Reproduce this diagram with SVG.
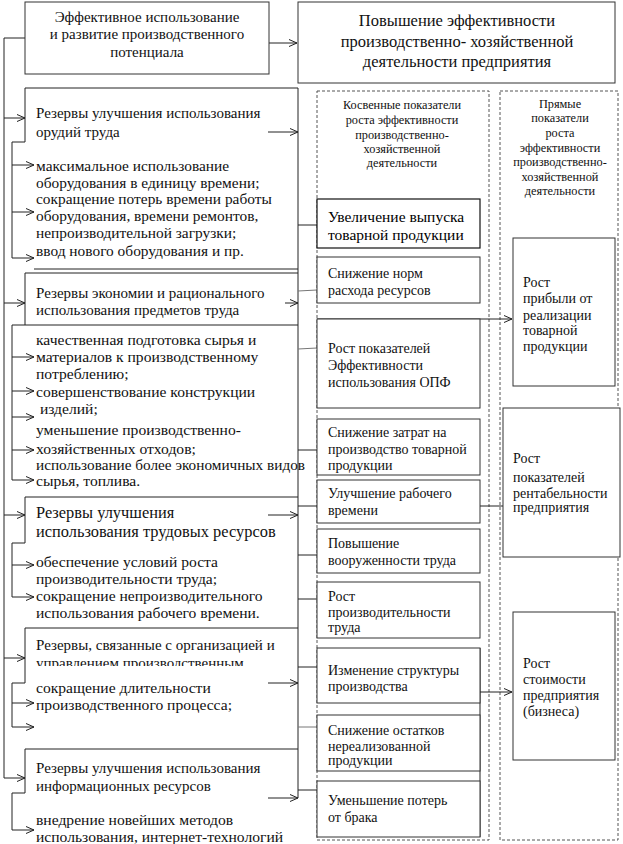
<svg xmlns="http://www.w3.org/2000/svg" width="623" height="844" viewBox="0 0 623 844">
<style>
text{font-family:"Liberation Serif","Times New Roman",serif;fill:#111}
.t15{font-size:15px}
.t154{font-size:15.4px}
.t156{font-size:15.6px}
.t16{font-size:16px}
.t164{font-size:16.4px}
.t165{font-size:16.5px}
.t14{font-size:14px}
.t12{font-size:12.3px}
.c{text-anchor:middle}
.box{fill:#fff;stroke:#333;stroke-width:1}
.dash{fill:none;stroke:#555;stroke-width:1;stroke-dasharray:3,2}
.ln{fill:none;stroke:#222;stroke-width:1}
.gr{fill:none;stroke:#777;stroke-width:1}
.ar{fill:none;stroke:#222;stroke-width:1;marker-end:url(#arr)}
</style>
<defs>
<marker id="arr" viewBox="0 0 8 8" refX="8" refY="4" markerWidth="8" markerHeight="8" markerUnits="userSpaceOnUse" orient="auto">
<path d="M0,0.5 L8,4 L0,7.5" fill="none" stroke="#222" stroke-width="1"/>
</marker>
<clipPath id="clip4"><rect x="0" y="0" width="623" height="666"/></clipPath>
</defs>
<rect width="623" height="844" fill="#fff"/>

<g id="col-indirect"><rect class="dash" x="317" y="91" width="172" height="749"/>
<text class="t12 c"><tspan x="402" y="109">Косвенные показатели</tspan><tspan x="402" y="124">роста эффективности</tspan><tspan x="402" y="139">производственно-</tspan><tspan x="402" y="153">хозяйственной</tspan><tspan x="402" y="167">деятельности</tspan></text></g>
<g id="col-direct"><rect class="dash" x="500" y="91" width="118" height="749"/>
<text class="t12 c"><tspan x="560" y="108">Прямые</tspan><tspan x="560" y="122">показатели</tspan><tspan x="560" y="137">роста</tspan><tspan x="560" y="152">эффективности</tspan><tspan x="560" y="166">производственно-</tspan><tspan x="560" y="181">хозяйственной</tspan><tspan x="560" y="195">деятельности</tspan></text></g>

<g id="connectors">
<polyline class="ln" points="25,38 4,38 4,778"/>
<line class="ar" x1="4" y1="118" x2="25" y2="118"/>
<line class="ar" x1="4" y1="303" x2="25" y2="303"/>
<line class="ar" x1="4" y1="515" x2="25" y2="515"/>
<line class="ar" x1="4" y1="658" x2="25" y2="658"/>
<line class="ar" x1="4" y1="778" x2="25" y2="778"/>
<line class="ar" x1="269" y1="43" x2="297" y2="43"/>
<polyline class="ln" points="12,142 25,142 25,88 298,88 298,798"/>
<polyline class="ln" points="12,142 12,258"/>
<line class="ln" x1="34" y1="269" x2="298" y2="269"/>
<polyline class="ln" points="298,325 12,325 12,480"/>
<polyline class="ln" points="25,325 25,273 298,273"/>
<polyline class="ln" points="12,543 25,543 25,497 298,497"/>
<polyline class="ln" points="12,543 12,597"/>
<polyline class="ln" points="12,683 25,683 25,628 298,628"/>
<polyline class="ln" points="12,683 12,727"/>
<polyline class="ln" points="12,793 25,793 25,749 298,749"/>
<polyline class="ln" points="12,793 12,830"/>
<line class="ar" x1="12" y1="165" x2="34" y2="165"/>
<line class="ar" x1="12" y1="212" x2="34" y2="212"/>
<line class="ar" x1="12" y1="258" x2="34" y2="258"/>
<line class="ar" x1="12" y1="357" x2="34" y2="357"/>
<line class="ar" x1="12" y1="391" x2="34" y2="391"/>
<line class="ar" x1="12" y1="417" x2="34" y2="417"/>
<line class="ar" x1="12" y1="450" x2="34" y2="450"/>
<line class="ar" x1="12" y1="480" x2="34" y2="480"/>
<line class="ar" x1="12" y1="565" x2="34" y2="565"/>
<line class="ar" x1="12" y1="597" x2="34" y2="597"/>
<line class="ar" x1="12" y1="703" x2="34" y2="703"/>
<line class="ar" x1="12" y1="727" x2="34" y2="727"/>
<line class="ar" x1="12" y1="830" x2="34" y2="830"/>
<line class="ar" x1="268" y1="132" x2="298" y2="132"/>
<line class="ar" x1="285" y1="303" x2="298" y2="303"/>
<line class="ar" x1="268" y1="515" x2="298" y2="515"/>
<line class="ar" x1="268" y1="683" x2="298" y2="683"/>
<line class="ar" x1="268" y1="798" x2="298" y2="798"/>
<line class="ln" x1="298" y1="225" x2="317" y2="225"/>
<line class="gr" x1="298" y1="291" x2="317" y2="290"/>
<line class="gr" x1="298" y1="349" x2="317" y2="348"/>
<line class="ln" x1="298" y1="450" x2="317" y2="450"/>
<line class="ln" x1="298" y1="506" x2="317" y2="506"/>
<line class="ln" x1="298" y1="555" x2="317" y2="555"/>
<line class="ln" x1="298" y1="599" x2="317" y2="599"/>
<line class="ln" x1="298" y1="667" x2="317" y2="667"/>
<line class="gr" x1="298" y1="727" x2="317" y2="727"/>
<line class="ln" x1="298" y1="790" x2="317" y2="790"/>
<line class="ar" x1="317" y1="319" x2="512" y2="319"/>
<line class="ar" x1="480" y1="506" x2="513" y2="506"/>
<line class="ar" x1="480" y1="692" x2="512" y2="692"/>
<line class="ln" x1="480" y1="648" x2="480" y2="837"/>
</g>

<g id="n-top1"><rect class="box" x="25" y="2" width="244" height="72"/>
<text class="t15 c"><tspan x="147" y="22">Эффективное использование</tspan><tspan x="147" y="39">и развитие производственного</tspan><tspan x="147" y="57">потенциала</tspan></text></g>
<g id="n-top2"><rect class="box" x="298" y="2" width="317" height="81"/>
<text class="t165 c"><tspan x="457" y="26">Повышение эффективности</tspan><tspan x="457" y="47">производственно- хозяйственной</tspan><tspan x="457" y="67">деятельности предприятия</tspan></text></g>

<g id="n-res1"><text class="t15"><tspan x="36" y="118">Резервы улучшения использования</tspan><tspan x="36" y="137">орудий труда</tspan></text>
<text class="t154"><tspan x="36" y="171">максимальное использование</tspan><tspan x="36" y="188">оборудования в единицу времени;</tspan><tspan x="36" y="204">сокращение потерь времени работы</tspan><tspan x="36" y="221">оборудования, времени ремонтов,</tspan><tspan x="36" y="238">непроизводительной загрузки;</tspan><tspan x="36" y="256">ввод нового оборудования и пр.</tspan></text></g>

<g id="n-res2"><text class="t15"><tspan x="36" y="298">Резервы экономии и рационального</tspan><tspan x="36" y="315">использования предметов труда</tspan></text>
<text class="t156"><tspan x="36" y="345">качественная подготовка сырья и</tspan><tspan x="36" y="362">материалов к производственному</tspan><tspan x="36" y="379">потреблению;</tspan><tspan x="36" y="397">совершенствование конструкции</tspan><tspan x="36" y="414"> изделий;</tspan><tspan x="36" y="435">уменьшение производственно-</tspan><tspan x="36" y="454">хозяйственных отходов;</tspan></text>
<text class="t156" x="36" y="470" textLength="269" lengthAdjust="spacingAndGlyphs">использование более экономичных видов</text>
<text class="t156" x="36" y="486">сырья, топлива.</text></g>

<g id="n-res3"><text class="t164"><tspan x="36" y="518">Резервы улучшения</tspan><tspan x="36" y="537">использования трудовых ресурсов</tspan></text>
<text class="t156"><tspan x="36" y="567">обеспечение условий роста</tspan><tspan x="36" y="584">производительности труда;</tspan><tspan x="36" y="601">сокращение непроизводительного</tspan><tspan x="36" y="618">использования рабочего времени.</tspan></text></g>

<g id="n-res4"><text class="t15" clip-path="url(#clip4)"><tspan x="36" y="650">Резервы, связанные с организацией и</tspan><tspan x="36" y="668">управлением производственным</tspan></text>
<text class="t156"><tspan x="36" y="693">сокращение длительности</tspan><tspan x="36" y="710">производственного процесса;</tspan></text></g>

<g id="n-res5"><text class="t15"><tspan x="36" y="773">Резервы улучшения использования</tspan><tspan x="36" y="791">информационных ресурсов</tspan></text>
<text class="t156"><tspan x="36" y="825">внедрение новейших методов</tspan><tspan x="36" y="842">использования, интернет-технологий</tspan></text></g>

<g id="n-i1"><rect class="box" x="317" y="199" width="163" height="49" style="stroke:#111;stroke-width:1.2"/><text style="font-size:15.5px;fill:#000"><tspan x="328" y="222">Увеличение выпуска</tspan><tspan x="328" y="240">товарной продукции</tspan></text></g>
<g id="n-i2"><rect class="box" x="317" y="257" width="163" height="46"/><text class="t14"><tspan x="328" y="278">Снижение норм</tspan><tspan x="328" y="295">расхода ресурсов</tspan></text></g>
<g id="n-i3"><rect class="box" x="317" y="319" width="163" height="89"/><text class="t14"><tspan x="328" y="353">Рост показателей</tspan><tspan x="328" y="370">Эффективности</tspan><tspan x="328" y="387">использования ОПФ</tspan></text></g>
<g id="n-i4"><rect class="box" x="317" y="419" width="163" height="56"/><text class="t14"><tspan x="328" y="437">Снижение затрат на</tspan><tspan x="328" y="454">производство товарной</tspan><tspan x="328" y="470">продукции</tspan></text></g>
<g id="n-i5"><rect class="box" x="317" y="480" width="163" height="43"/><text class="t14"><tspan x="328" y="498">Улучшение рабочего</tspan><tspan x="328" y="515">времени</tspan></text></g>
<g id="n-i6"><rect class="box" x="317" y="529" width="163" height="44"/><text class="t14"><tspan x="328" y="548">Повышение</tspan><tspan x="328" y="565">вооруженности труда</tspan></text></g>
<g id="n-i7"><rect class="box" x="317" y="582" width="163" height="56"/><text class="t14"><tspan x="328" y="601">Рост</tspan><tspan x="328" y="617">производительности</tspan><tspan x="328" y="632">труда</tspan></text></g>
<g id="n-i8"><rect class="box" x="317" y="648" width="163" height="55"/><text class="t14"><tspan x="328" y="675">Изменение структуры</tspan><tspan x="328" y="691">производства</tspan></text></g>
<g id="n-i9"><rect class="box" x="317" y="715" width="163" height="56"/><text class="t14"><tspan x="328" y="735">Снижение остатков</tspan><tspan x="328" y="751">нереализованной</tspan><tspan x="328" y="765">продукции</tspan></text></g>
<g id="n-i10"><rect class="box" x="317" y="781" width="163" height="56"/><text class="t14"><tspan x="328" y="805">Уменьшение потерь</tspan><tspan x="328" y="822">от брака</tspan></text></g>

<g id="n-d1"><rect class="box" x="513" y="238" width="102" height="148"/><text class="t14"><tspan x="523" y="287">Рост</tspan><tspan x="523" y="303">прибыли от</tspan><tspan x="523" y="320">реализации</tspan><tspan x="523" y="335">товарной</tspan><tspan x="523" y="351">продукции</tspan></text></g>
<g id="n-d2"><rect class="box" x="503" y="408" width="117" height="149"/><text class="t14"><tspan x="513" y="463">Рост</tspan><tspan x="513" y="482">показателей</tspan><tspan x="513" y="498">рентабельности</tspan><tspan x="513" y="512">предприятия</tspan></text></g>
<g id="n-d3"><rect class="box" x="513" y="612" width="102" height="148"/><text class="t14"><tspan x="523" y="668">Рост</tspan><tspan x="523" y="684">стоимости</tspan><tspan x="523" y="700">предприятия</tspan><tspan x="523" y="716">(бизнеса)</tspan></text></g>
</svg>
